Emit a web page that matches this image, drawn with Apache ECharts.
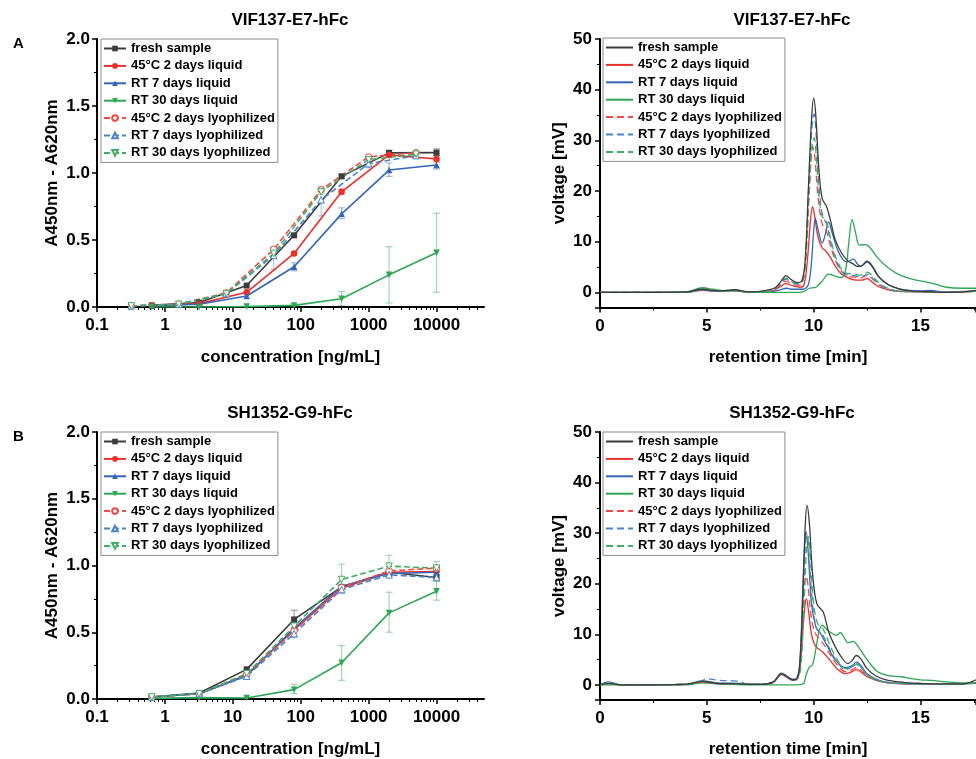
<!DOCTYPE html>
<html><head><meta charset="utf-8">
<script src="https://cdn.jsdelivr.net/npm/echarts@6/dist/echarts.min.js"></script>
<style>html,body{margin:0;padding:0;background:#fff}#c{width:976px;height:759px}</style>
</head><body><div id="c"></div>
<script>
// ---------- names ----------
const seriesNames = ['fresh sample','45°C 2 days liquid','RT 7 days liquid','RT 30 days liquid','45°C 2 days lyophilized','RT 7 days lyophilized','RT 30 days lyophilized'];
const titleA = 'VIF137-E7-hFc';
const titleB = 'SH1352-G9-hFc';
const xTicksLog = [0.1, 1, 10, 100, 1000, 10000];
const xTicksTime = [0, 5, 10, 15];

// ---------- ELISA panel A ----------
const concA_liq = [0.64, 3.2, 16, 80, 400, 2000, 10000];
const concA_lyo = [0.32, 1.6, 8, 40, 200, 1000, 5000];
const A_fresh  = [0.012, 0.033, 0.16, 0.535, 0.975, 1.15, 1.152];
const A_45liq  = [0.01, 0.025, 0.11, 0.40, 0.86, 1.135, 1.105];
const A_rt7liq = [0.01, 0.02, 0.082, 0.30, 0.695, 1.022, 1.06];
const A_rt30liq= [0.0, 0.0, 0.003, 0.012, 0.062, 0.24, 0.405];
const A_45lyo  = [0.008, 0.022, 0.105, 0.43, 0.875, 1.12, 1.152];
const A_rt7lyo = [0.008, 0.02, 0.10, 0.385, 0.80, 1.07, 1.13];
const A_rt30lyo= [0.008, 0.02, 0.10, 0.40, 0.86, 1.10, 1.14];
// error bars [x, low, high]
const A_err_fresh  = [[2000,1.13,1.17],[10000,1.13,1.18],[400,0.96,0.99]];
const A_err_45liq  = [[400,0.84,0.88],[10000,1.08,1.13]];
const A_err_rt7liq = [[80,0.27,0.33],[400,0.66,0.74],[2000,0.975,1.075],[10000,1.03,1.09]];
const A_err_rt30liq= [[80,0.005,0.02],[400,0.01,0.115],[2000,0.03,0.45],[10000,0.11,0.70]];
const A_err_45lyo  = [[40,0.40,0.45],[200,0.85,0.90],[1000,1.10,1.13]];
const A_err_rt7lyo = [[40,0.28,0.44],[200,0.68,0.89],[1000,1.04,1.10],[5000,1.11,1.15]];
const A_err_rt30lyo= [[40,0.37,0.42],[200,0.84,0.88]];

// ---------- ELISA panel B ----------
const concB = [0.64, 3.2, 16, 80, 400, 2000, 10000];
const B_fresh  = [0.015, 0.045, 0.222, 0.596, 0.84, 0.95, 0.91];
const B_45liq  = [0.015, 0.04, 0.18, 0.52, 0.83, 0.95, 0.955];
const B_rt7liq = [0.015, 0.04, 0.175, 0.53, 0.845, 0.94, 0.95];
const B_rt30liq= [0.005, 0.01, 0.008, 0.07, 0.272, 0.645, 0.807];
const B_45lyo  = [0.015, 0.04, 0.185, 0.51, 0.835, 0.96, 0.98];
const B_rt7lyo = [0.015, 0.04, 0.17, 0.49, 0.82, 0.93, 0.91];
const B_rt30lyo= [0.015, 0.04, 0.19, 0.545, 0.895, 0.995, 0.98];
const B_err_fresh  = [[80,0.57,0.665]];
const B_err_45liq  = [[2000,0.93,0.97]];
const B_err_rt7liq = [[2000,0.92,0.96]];
const B_err_rt30liq= [[80,0.04,0.11],[400,0.14,0.40],[2000,0.50,0.80],[10000,0.74,0.88]];
const B_err_45lyo  = [[10000,0.96,1.0]];
const B_err_rt7lyo = [[80,0.46,0.52],[400,0.79,0.85]];
const B_err_rt30lyo= [[400,0.82,1.01],[2000,0.97,1.076],[10000,0.93,1.03]];

// ---------- SEC chromatograms panel A: [time min, voltage mV] ----------
const Ac_fresh = [[0,0],[2,0],[4,0.1],[4.8,0.6],[5.5,0.3],[6.3,0.5],[7,0.1],[7.8,0.4],[8.2,0.9],[8.5,2.3],[8.7,3.3],[8.95,2.5],[9.25,1.9],[9.45,2.3],[9.6,6],[9.75,20],[9.9,34],[10.0,38.3],[10.1,35],[10.25,24],[10.4,18.5],[10.6,17],[10.8,14],[11.0,10.5],[11.3,7.8],[11.6,6.2],[11.85,5.6],[12.05,5.1],[12.25,5.2],[12.5,6.0],[12.75,5.0],[13.0,3.3],[13.5,1.5],[14,0.7],[14.5,0.3],[15,0.2],[16,0],[17,0.1],[17.6,0.4]];
const Ac_45liq = [[0,0],[4,0],[4.8,0.4],[5.5,0.2],[6.3,0.3],[7,0],[8,0.2],[8.4,1.0],[8.7,1.7],[9.0,1.3],[9.35,1.0],[9.55,1.5],[9.7,6],[9.85,14],[9.95,16.9],[10.05,15],[10.2,11],[10.4,8.8],[10.6,8.0],[10.8,6.8],[11.0,5.2],[11.3,3.6],[11.7,2.7],[12.0,2.4],[12.25,2.4],[12.5,2.7],[12.75,2.0],[13.0,1.2],[13.5,0.5],[14,0.2],[15,0.1],[16,0],[17.6,0.2]];
const Ac_rt7liq = [[0,0],[4,0],[4.8,0.5],[5.5,0.2],[6.3,0.4],[7,0],[8,0.1],[8.5,0.6],[8.75,0.8],[9.0,0.6],[9.5,0.6],[9.75,1.5],[9.9,6],[10.0,12],[10.08,14.6],[10.2,12.5],[10.4,9.7],[10.55,11.5],[10.7,13.9],[10.85,12],[11.1,8.6],[11.4,6.3],[11.6,6.0],[11.85,6.6],[12.05,5.6],[12.2,5.1],[12.5,6.2],[12.75,5.2],[13.1,2.8],[13.5,1.5],[14,0.7],[14.5,0.4],[15,0.3],[15.5,0.4],[16,0.1],[17.6,0.3]];
const Ac_rt30liq = [[0,0],[4,0.1],[4.8,0.9],[5.3,0.6],[6,0.3],[6.5,0.3],[7,0],[8,0],[9,0],[9.5,0.1],[9.8,0.8],[10.1,1.0],[10.4,2.2],[10.7,3.6],[11.0,3.2],[11.3,2.9],[11.5,4.5],[11.65,10],[11.8,14.4],[11.95,12],[12.15,9.3],[12.4,9.4],[12.6,9.0],[13.0,6.8],[13.5,4.8],[14.0,3.5],[14.7,2.5],[15.3,2.0],[15.7,1.6],[16.2,1.0],[17.0,0.8],[17.6,0.8]];
const Ac_45lyo = [[0,0],[4,0],[4.8,0.5],[5.5,0.2],[6.3,0.4],[7,0],[8,0.3],[8.4,1.3],[8.7,2.2],[9.0,1.6],[9.3,1.4],[9.5,2.2],[9.65,8],[9.8,20],[9.95,28.8],[10.05,27],[10.2,19],[10.4,13.5],[10.6,12],[10.8,9],[11.1,5.5],[11.5,3.3],[11.9,3.0],[12.2,2.8],[12.5,3.3],[12.8,2.5],[13.1,1.4],[13.6,0.5],[14.2,0.2],[15,0.1],[16,0],[17.6,0.2]];
const Ac_rt7lyo = [[0,0],[4,0],[4.8,0.5],[5.5,0.2],[6.3,0.4],[7,0],[8,0.3],[8.4,1.5],[8.7,2.6],[9.0,1.9],[9.3,1.6],[9.5,2.4],[9.65,9],[9.8,24],[9.95,34],[10.02,35.2],[10.12,31],[10.25,21],[10.4,15.5],[10.6,13.5],[10.8,10],[11.1,5.8],[11.5,3.5],[11.9,3.3],[12.2,3.0],[12.5,3.6],[12.8,2.6],[13.1,1.5],[13.6,0.5],[14.2,0.2],[15,0.1],[16,0],[17.6,0.2]];
const Ac_rt30lyo = [[0,0],[4,0],[4.8,0.6],[5.5,0.3],[6.3,0.4],[7,0],[8,0.3],[8.4,1.6],[8.7,2.8],[9.0,2.0],[9.3,1.7],[9.5,2.4],[9.65,8],[9.8,21],[9.95,29.5],[10.02,30.5],[10.12,27],[10.25,19],[10.4,15],[10.6,14],[10.8,10.5],[11.1,6.2],[11.5,3.8],[11.9,3.6],[12.2,3.4],[12.5,4.0],[12.8,3.0],[13.1,1.7],[13.6,0.6],[14.2,0.2],[15,0.1],[16,0],[17.6,0.2]];

// ---------- SEC chromatograms panel B ----------
const Bc_fresh = [[0,0],[0.4,0.3],[1,0],[4,0.1],[4.8,0.7],[5.5,0.3],[6.5,0.2],[7.5,0.1],[8.1,0.5],[8.5,2.2],[8.7,1.8],[9.0,1.0],[9.2,1.2],[9.35,4],[9.5,18],[9.6,31],[9.69,35.5],[9.8,32],[9.95,22],[10.15,16],[10.45,14.4],[10.7,10.5],[11.0,7.6],[11.3,5.5],[11.6,4.2],[11.8,4.8],[12.0,5.8],[12.2,5.2],[12.5,3.2],[12.9,1.8],[13.4,1.0],[14.2,0.5],[15,0.3],[16,0.2],[17,0.2],[17.6,1.0]];
const Bc_45liq = [[0,0],[0.4,0.2],[1,0],[4,0.1],[4.8,0.5],[5.5,0.2],[6.5,0.1],[7.5,0.1],[8.1,0.5],[8.5,2.0],[8.7,1.6],[9.0,0.9],[9.2,1.0],[9.35,3],[9.5,11],[9.6,16],[9.66,17],[9.75,15],[9.9,10],[10.1,7.6],[10.4,6.6],[10.7,5.2],[11.1,3.2],[11.5,2.2],[11.8,2.6],[12.0,3.0],[12.2,2.6],[12.5,1.6],[13,0.8],[13.5,0.4],[14.5,0.2],[16,0.1],[17.6,0.4]];
const Bc_rt7liq = [[0,0],[0.4,0.6],[1,0],[4,0.1],[4.8,0.8],[5.5,0.4],[6.5,0.3],[7.5,0.1],[8.1,0.6],[8.5,2.3],[8.7,1.9],[9.0,1.1],[9.2,1.2],[9.35,4],[9.5,20],[9.6,29],[9.65,30.3],[9.75,26],[9.9,16],[10.1,11.5],[10.3,10.3],[10.6,8],[11.0,5],[11.5,3.4],[11.8,3.8],[12.0,4.5],[12.2,3.9],[12.5,2.2],[13,1.0],[13.5,0.5],[14.5,0.2],[16,0.1],[17.6,0.4]];
const Bc_rt30liq = [[0,0],[4,0],[4.8,0.4],[5.5,0.2],[7,0],[9,0],[9.5,0.2],[9.65,2.0],[9.8,3.5],[9.95,4.0],[10.1,7],[10.25,10.5],[10.4,11.8],[10.6,11.0],[10.85,10.2],[11.05,9.8],[11.25,10.3],[11.45,9.2],[11.6,8.3],[11.85,8.6],[12.05,7.8],[12.3,6.2],[12.6,4.4],[13.0,2.6],[13.5,1.8],[14.1,1.6],[14.5,1.3],[15,1.0],[15.5,0.9],[16.2,0.6],[17,0.4],[17.6,0.4]];
const Bc_45lyo = [[0,0],[0.4,0.3],[1,0],[4,0.1],[4.8,0.6],[5.5,0.3],[6.5,0.2],[7.5,0.1],[8.1,0.5],[8.5,2.0],[8.7,1.7],[9.0,1.0],[9.2,1.1],[9.35,3.5],[9.5,14],[9.6,20.5],[9.66,21.5],[9.75,19],[9.9,13],[10.1,10],[10.3,9],[10.6,7.2],[11.0,4.5],[11.5,2.6],[11.8,3.0],[12.0,3.4],[12.2,3.0],[12.5,1.8],[13,0.9],[13.5,0.4],[14.5,0.2],[16,0.1],[17.6,0.3]];
const Bc_rt7lyo = [[0,0],[0.4,0.4],[1,0],[4,0.1],[4.8,0.9],[5.0,1.2],[5.6,0.9],[6.2,0.8],[6.6,0.6],[6.9,0.1],[7.5,0.1],[8.1,0.5],[8.5,2.2],[8.7,1.8],[9.0,1.0],[9.2,1.1],[9.35,3.5],[9.5,17],[9.62,28],[9.7,29.5],[9.8,25],[9.95,16],[10.15,11],[10.4,10],[10.7,7.5],[11.1,4.5],[11.5,3.0],[11.8,3.6],[12.0,4.2],[12.2,3.6],[12.5,2.0],[13,0.9],[13.5,0.4],[14.5,0.2],[16,0.1],[17.6,0.3]];
const Bc_rt30lyo = [[0,0],[0.4,0.3],[1,0],[4,0.1],[4.8,0.7],[5.5,0.3],[6.5,0.2],[7.5,0.1],[8.1,0.5],[8.5,2.1],[8.7,1.8],[9.0,1.0],[9.2,1.1],[9.4,3.5],[9.55,16],[9.67,27],[9.75,29.3],[9.85,25],[10.0,16],[10.2,12],[10.45,11],[10.75,8],[11.1,5],[11.5,3.2],[11.8,3.6],[12.0,4.0],[12.2,3.5],[12.5,2.0],[13,0.9],[13.5,0.4],[14.5,0.2],[16,0.1],[17.6,0.3]];

// ---------- styling ----------
const FONT = 'Liberation Sans, Arial, sans-serif';
const colSolid = ['#3c3c3c', '#e8302c', '#3466b8', '#2ea653'];
const colDash  = ['#ef4a46', '#4a82cc', '#40ae62'];
const errCol   = ['rgba(60,60,60,0.45)','rgba(232,48,44,0.4)','rgba(52,102,184,0.45)','rgba(46,166,83,0.45)','rgba(239,74,70,0.4)','rgba(74,130,204,0.45)','rgba(64,174,98,0.45)'];

const chart = echarts.init(document.getElementById('c'), null, {renderer: 'canvas'});

function pairs(xs, ys) { return xs.map((x, i) => [x, ys[i]]); }

// names per panel (trailing spaces keep legends independent; trimmed for display)
function nm(i, panel) { return seriesNames[i] + ' '.repeat(panel); }

const markerDefs = [
  {symbol: 'rect', rot: 0, open: false},
  {symbol: 'circle', rot: 0, open: false},
  {symbol: 'triangle', rot: 0, open: false},
  {symbol: 'triangle', rot: 180, open: false},
  {symbol: 'circle', rot: 0, open: true},
  {symbol: 'triangle', rot: 0, open: true},
  {symbol: 'triangle', rot: 180, open: true}
];
function colorOf(i) { return i < 4 ? colSolid[i] : colDash[i - 4]; }

function elisaSeries(i, panel, data, xi, yi) {
  const m = markerDefs[i];
  const c = colorOf(i);
  return {
    type: 'line', name: nm(i, panel), xAxisIndex: xi, yAxisIndex: yi,
    data: data, symbol: m.symbol, symbolRotate: m.rot, symbolSize: m.symbol === 'rect' ? 6 : 6.5,
    showAllSymbol: true, z: 3,
    itemStyle: m.open ? {color: '#ffffff', borderColor: c, borderWidth: 1} : {color: c},
    lineStyle: {color: c, width: 1.6, type: i >= 4 ? [6, 3] : 'solid'},
    animation: false
  };
}
function errSeries(i, panel, data, xi, yi) {
  return {
    type: 'custom', name: 'err' + panel + '_' + i, xAxisIndex: xi, yAxisIndex: yi, z: 2,
    data: data, silent: true, animation: false,
    renderItem: function (params, api) {
      const x = api.value(0), lo = api.value(1), hi = api.value(2);
      const p1 = api.coord([x, lo]), p2 = api.coord([x, hi]);
      const w = 3.5;
      const st = {stroke: errCol[i], lineWidth: 1.2};
      return {type: 'group', children: [
        {type: 'line', shape: {x1: p1[0], y1: p1[1], x2: p2[0], y2: p2[1]}, style: st},
        {type: 'line', shape: {x1: p1[0]-w, y1: p1[1], x2: p1[0]+w, y2: p1[1]}, style: st},
        {type: 'line', shape: {x1: p2[0]-w, y1: p2[1], x2: p2[0]+w, y2: p2[1]}, style: st}
      ]};
    }
  };
}
function secSeries(i, panel, data, xi, yi) {
  const c = colorOf(i);
  return {
    type: 'line', name: nm(i, panel), xAxisIndex: xi, yAxisIndex: yi,
    data: data, symbol: 'none', smooth: 0.35, z: 3 + (i === 0 ? 1 : 0),
    lineStyle: {color: c, width: 1.3, type: i >= 4 ? [7, 4] : 'solid'},
    itemStyle: {color: c}, animation: false
  };
}

const axisTxt = {color: '#000', fontFamily: FONT, fontWeight: 'bold', fontSize: 17};
const axisLineS = {show: true, onZero: false, lineStyle: {color: '#000', width: 2}};

function logX(gi, name) {
  return {
    type: 'log', logBase: 10, gridIndex: gi, min: 0.1, max: 50000,
    name: name, nameLocation: 'middle', nameGap: 42, nameTextStyle: axisTxt,
    axisLine: axisLineS, axisTick: {show: true, length: 5, inside: false, lineStyle: {color: '#000', width: 1.5}},
    axisLabel: Object.assign({margin: 10, showMaxLabel: false, formatter: v => String(+Number(v).toPrecision(6))}, axisTxt),
    splitLine: {show: false}
  };
}
const minorLogVals = [];
[-1, 0, 1, 2, 3, 4].forEach(e => { for (let k = 2; k <= 9; k++) { const v = e + Math.log10(k); if (v < Math.log10(50000)) minorLogVals.push(v); } });
function minorX(gi) {
  return {
    type: 'value', gridIndex: gi, min: -1, max: Math.log10(50000), position: 'bottom',
    axisLine: {show: false, onZero: false}, axisLabel: {show: false}, splitLine: {show: false},
    axisTick: {show: true, length: 3, customValues: minorLogVals, lineStyle: {color: '#000', width: 1}}
  };
}
function timeX(gi, name) {
  return {
    type: 'value', gridIndex: gi, min: 0, max: 17.6, interval: 5,
    name: name, nameLocation: 'middle', nameGap: 41, nameTextStyle: axisTxt,
    axisLine: axisLineS, axisTick: {show: true, length: 5, lineStyle: {color: '#000', width: 1.5}},
    minorTick: {show: true, splitNumber: 2, length: 3, lineStyle: {color: '#000', width: 1}},
    axisLabel: Object.assign({margin: 10, showMaxLabel: false}, axisTxt),
    splitLine: {show: false}, minorSplitLine: {show: false}
  };
}
function elisaY(gi, name) {
  return {
    type: 'value', gridIndex: gi, min: 0, max: 2, interval: 0.5,
    name: name, nameLocation: 'middle', nameGap: 36, nameTextStyle: axisTxt,
    axisLine: axisLineS, axisTick: {show: true, length: 5, lineStyle: {color: '#000', width: 1.5}},
    minorTick: {show: true, splitNumber: 2, length: 3, lineStyle: {color: '#000', width: 1}},
    axisLabel: Object.assign({margin: 7, formatter: v => v.toFixed(1)}, axisTxt),
    splitLine: {show: false}, minorSplitLine: {show: false}
  };
}
function secY(gi, name) {
  return {
    type: 'value', gridIndex: gi, min: -3, max: 50, splitNumber: 5,
    name: name, nameLocation: 'middle', nameGap: 32, nameTextStyle: axisTxt,
    axisLine: axisLineS, axisTick: {show: true, length: 5, lineStyle: {color: '#000', width: 1.5}},
    minorTick: {show: true, splitNumber: 2, length: 3, lineStyle: {color: '#000', width: 1}},
    axisLabel: Object.assign({margin: 8, formatter: v => (v < 0 ? '' : String(v))}, axisTxt),
    splitLine: {show: false}, minorSplitLine: {show: false}
  };
}
function legend(panel, left, top, itemWidth, markers) {
  const lg = {
    show: true, orient: 'vertical', left: left, top: top,
    data: seriesNames.map((s, i) => nm(i, panel)),
    formatter: n => n.trim(),
    backgroundColor: '#fff', borderColor: '#8c8c8c', borderWidth: 1, borderRadius: 0,
    padding: [3, 3, 3, 2], itemGap: 4.4, itemWidth: itemWidth, itemHeight: markers ? 7 : 13,
    textStyle: {color: '#000', fontFamily: FONT, fontWeight: 'bold', fontSize: 13, lineHeight: 13},
    selectedMode: false, z: 10
  };
  if (!markers) lg.itemStyle = {opacity: 0};
  return lg;
}

const series = [];
// panel 0: A ELISA
const aSets = [A_fresh, A_45liq, A_rt7liq, A_rt30liq, A_45lyo, A_rt7lyo, A_rt30lyo];
const aErr = [A_err_fresh, A_err_45liq, A_err_rt7liq, A_err_rt30liq, A_err_45lyo, A_err_rt7lyo, A_err_rt30lyo];
aErr.forEach((e, i) => series.push(errSeries(i, 0, e, 0, 0)));
aSets.forEach((d, i) => series.push(elisaSeries(i, 0, pairs(i < 4 ? concA_liq : concA_lyo, d), 0, 0)));
// panel 1: A SEC
[Ac_fresh, Ac_45liq, Ac_rt7liq, Ac_rt30liq, Ac_45lyo, Ac_rt7lyo, Ac_rt30lyo].forEach((d, i) => series.push(secSeries(i, 1, d, 1, 1)));
// panel 2: B ELISA
const bSets = [B_fresh, B_45liq, B_rt7liq, B_rt30liq, B_45lyo, B_rt7lyo, B_rt30lyo];
const bErr = [B_err_fresh, B_err_45liq, B_err_rt7liq, B_err_rt30liq, B_err_45lyo, B_err_rt7lyo, B_err_rt30lyo];
bErr.forEach((e, i) => series.push(errSeries(i, 2, e, 2, 2)));
bSets.forEach((d, i) => series.push(elisaSeries(i, 2, pairs(concB, d), 2, 2)));
// panel 3: B SEC
[Bc_fresh, Bc_45liq, Bc_rt7liq, Bc_rt30liq, Bc_45lyo, Bc_rt7lyo, Bc_rt30lyo].forEach((d, i) => series.push(secSeries(i, 3, d, 3, 3)));

const titleStyle = {color: '#000', fontFamily: FONT, fontWeight: 'bold', fontSize: 17};
const option = {
  backgroundColor: '#ffffff',
  animation: false,
  title: [
    {text: titleA, left: 290, top: 12, textAlign: 'center', padding: 0, textStyle: titleStyle},
    {text: titleA, left: 792, top: 12, textAlign: 'center', padding: 0, textStyle: titleStyle},
    {text: titleB, left: 290, top: 405, textAlign: 'center', padding: 0, textStyle: titleStyle},
    {text: titleB, left: 792, top: 405, textAlign: 'center', padding: 0, textStyle: titleStyle},
    {text: 'A', left: 13, top: 36, padding: 0, textStyle: Object.assign({}, titleStyle, {fontSize: 15})},
    {text: 'B', left: 13, top: 429, padding: 0, textStyle: Object.assign({}, titleStyle, {fontSize: 15})}
  ],
  grid: [
    {left: 97, top: 39, width: 387, height: 268},
    {left: 600, top: 39, width: 376, height: 268.5},
    {left: 97, top: 432, width: 387, height: 268},
    {left: 600, top: 432, width: 376, height: 268}
  ],
  xAxis: [
    logX(0, 'concentration [ng/mL]'),
    timeX(1, 'retention time [min]'),
    logX(2, 'concentration [ng/mL]'),
    timeX(3, 'retention time [min]'),
    minorX(0),
    minorX(2)
  ],
  yAxis: [
    elisaY(0, 'A450nm - A620nm'),
    secY(1, 'voltage [mV]'),
    elisaY(2, 'A450nm - A620nm'),
    secY(3, 'voltage [mV]')
  ],
  legend: [
    legend(0, 101, 39, 22, true),
    legend(1, 603, 38, 27, false),
    legend(2, 101, 432, 22, true),
    legend(3, 603, 432, 27, false)
  ],
  series: series
};
chart.setOption(option);
</script>
</body></html>
